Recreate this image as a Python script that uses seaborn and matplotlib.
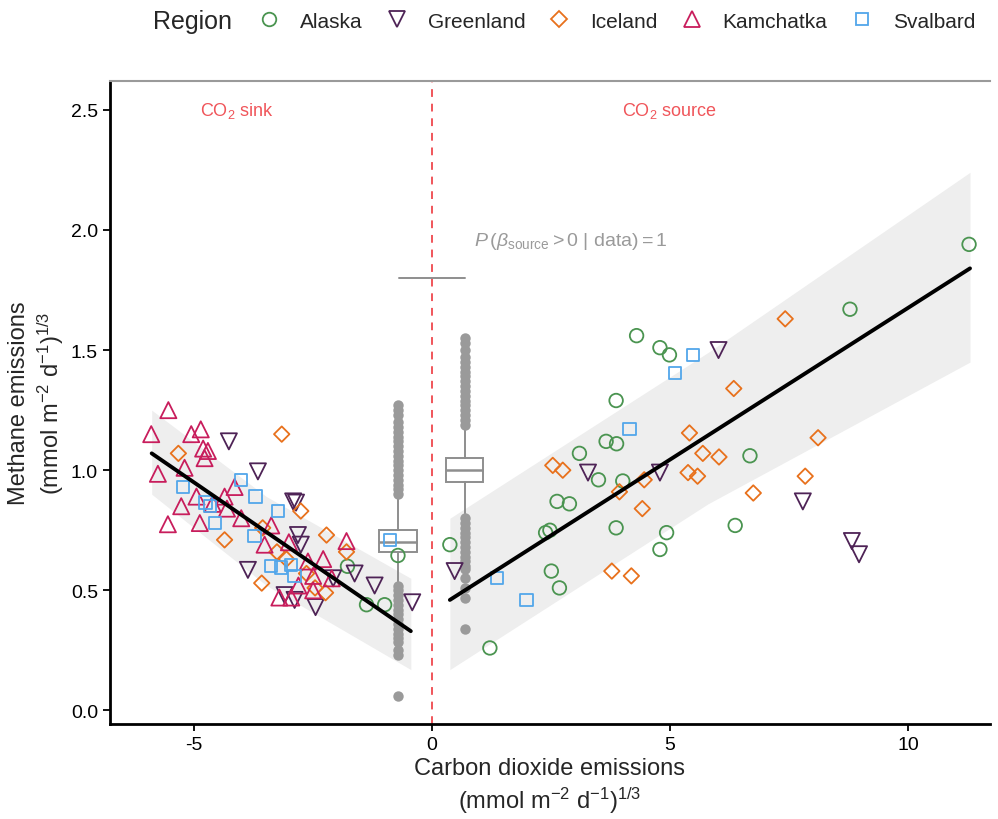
import matplotlib
matplotlib.use("Agg")
import matplotlib.pyplot as plt
from matplotlib.lines import Line2D
import numpy as np
import pandas as pd
import seaborn as sns

# Observed fluxes per region (cube-root transformed)
alaska_x = [11.28, 8.78, 4.30, 4.79, 4.99, 3.87, 3.66, 3.88, 3.10, 3.50, 4.01, 2.63, 2.89, 2.48,
            2.39, 3.87, 4.93, 4.79, 0.38, 2.51, 2.68, 1.22, 6.68, 6.37, -1.77, -1.37, -0.99, -0.71]
alaska_y = [1.94, 1.67, 1.56, 1.51, 1.48, 1.29, 1.12, 1.11, 1.07, 0.96, 0.955, 0.87, 0.86, 0.75,
            0.74, 0.76, 0.74, 0.67, 0.69, 0.58, 0.51, 0.26, 1.06, 0.77, 0.60, 0.44, 0.44, 0.645]

greenland_x = [3.28, 4.79, 0.48, 6.02, 7.79, 8.82, 8.97, -4.26, -3.65, -2.91, -2.85, -2.81, -2.75,
               -3.86, -3.09, -2.88, -2.44, -2.07, -1.62, -1.20, -0.41]
greenland_y = [0.99, 0.99, 0.58, 1.50, 0.87, 0.705, 0.65, 1.12, 0.995, 0.87, 0.865, 0.73, 0.69,
               0.585, 0.48, 0.46, 0.43, 0.55, 0.57, 0.52, 0.45]

iceland_x = [2.54, 2.75, 5.41, 5.69, 6.03, 5.38, 5.58, 4.46, 3.94, 6.34, 7.42, 8.11, 7.84, 6.75,
             4.42, 3.78, 4.19, -5.32, -3.15, -2.75, -2.21, -4.35, -3.57, -1.79, -3.25, -2.63,
             -2.23, -3.55, -3.05, -2.45]
iceland_y = [1.02, 1.00, 1.155, 1.07, 1.055, 0.99, 0.975, 0.96, 0.91, 1.34, 1.63, 1.135, 0.975,
             0.905, 0.84, 0.58, 0.56, 1.07, 1.15, 0.83, 0.73, 0.71, 0.53, 0.66, 0.66, 0.57, 0.49,
             0.76, 0.63, 0.51]

kamchatka_x = [-5.53, -5.89, -5.05, -4.85, -4.80, -4.77, -4.70, -5.75, -5.19, -5.26, -5.54, -4.87,
               -4.35, -4.14, -4.00, -4.94, -4.60, -3.51, -3.37, -3.00, -2.60, -1.79, -2.28, -2.49,
               -2.49, -2.95, -2.80, -3.20, -2.10, -4.30]
kamchatka_y = [1.25, 1.15, 1.15, 1.17, 1.09, 1.05, 1.08, 0.985, 1.01, 0.85, 0.775, 0.78, 0.89,
               0.93, 0.80, 0.89, 0.86, 0.69, 0.77, 0.70, 0.62, 0.705, 0.63, 0.56, 0.50, 0.47,
               0.52, 0.47, 0.55, 0.84]

svalbard_x = [5.10, 5.49, 4.15, 1.37, 1.99, -5.22, -4.75, -4.65, -4.00, -3.70, -3.23, -4.55, -3.72,
              -3.38, -3.16, -2.95, -2.88, -0.88]
svalbard_y = [1.405, 1.48, 1.17, 0.55, 0.46, 0.93, 0.865, 0.85, 0.96, 0.89, 0.83, 0.78, 0.725,
              0.60, 0.595, 0.605, 0.56, 0.71]

# Fitted lines and credible bands
sink_fit_x = [-5.88, -0.44]
sink_fit_y = [1.07, 0.33]
sink_band_x = [-5.88, -3.47, -0.44]
sink_band_lo = [0.90, 0.52, 0.17]
sink_band_hi = [1.25, 0.89, 0.55]

source_fit_x = [0.38, 11.30]
source_fit_y = [0.46, 1.84]
source_band_x = [0.38, 5.80, 11.30]
source_band_lo = [0.17, 0.86, 1.45]
source_band_hi = [0.80, 1.49, 2.24]

# Posterior boxplots (sink, source)
box_pos = [-0.71, 0.69]
box_med = [0.70, 1.00]
box_q1 = [0.66, 0.95]
box_q3 = [0.75, 1.05]
box_lo = [0.53, 0.81]
box_hi = [0.89, 1.18]
sink_fliers = [0.90, 0.92, 0.94, 0.96, 0.98, 1.00, 1.02, 1.04, 1.06, 1.08, 1.10, 1.12, 1.14,
               1.16, 1.18, 1.20, 1.23, 1.25, 1.27,
               0.52, 0.50, 0.48, 0.46, 0.44, 0.42, 0.40, 0.38, 0.36, 0.34, 0.32, 0.30, 0.285,
               0.25, 0.23, 0.06]
source_fliers = [1.19, 1.21, 1.23, 1.25, 1.27, 1.29, 1.31, 1.33, 1.35, 1.37, 1.39, 1.41, 1.43,
                 1.45, 1.47, 1.50, 1.53, 1.55,
                 0.80, 0.78, 0.76, 0.74, 0.72, 0.70, 0.68, 0.66, 0.64, 0.62, 0.60, 0.59,
                 0.55, 0.51, 0.47, 0.34]
bracket_x = [-0.69, 0.69]
bracket_y = [1.80, 1.80]

regions = ["Alaska", "Greenland", "Iceland", "Kamchatka", "Svalbard"]
colors = {"Alaska": "#4a9450", "Greenland": "#4e2356", "Iceland": "#e8711c",
          "Kamchatka": "#c81d5c", "Svalbard": "#52a6ea"}
markers = {"Alaska": "o", "Greenland": "v", "Iceland": "D", "Kamchatka": "^", "Svalbard": "s"}
msizes = {"Alaska": 95, "Greenland": 135, "Iceland": 62, "Kamchatka": 135, "Svalbard": 78}

df = pd.concat([
    pd.DataFrame({"co2": alaska_x, "ch4": alaska_y, "Region": "Alaska"}),
    pd.DataFrame({"co2": greenland_x, "ch4": greenland_y, "Region": "Greenland"}),
    pd.DataFrame({"co2": iceland_x, "ch4": iceland_y, "Region": "Iceland"}),
    pd.DataFrame({"co2": kamchatka_x, "ch4": kamchatka_y, "Region": "Kamchatka"}),
    pd.DataFrame({"co2": svalbard_x, "ch4": svalbard_y, "Region": "Svalbard"}),
], ignore_index=True)

sns.set_theme(style="white")
plt.rcParams["font.family"] = ["Liberation Sans", "DejaVu Sans"]
plt.rcParams["axes.unicode_minus"] = False
plt.rcParams["mathtext.fontset"] = "custom"
plt.rcParams["mathtext.rm"] = "Liberation Sans"
plt.rcParams["mathtext.it"] = "Liberation Sans:italic"
plt.rcParams["mathtext.bf"] = "Liberation Sans:bold"

fig = plt.figure(figsize=(9.98, 8.2), dpi=100)
ax = fig.add_axes([0.110, 0.116, 0.882, 0.784])

# bands
ax.fill_between(sink_band_x, sink_band_lo, sink_band_hi, color="#eeeeee", lw=0, zorder=0)
ax.fill_between(source_band_x, source_band_lo, source_band_hi, color="#eeeeee", lw=0, zorder=0)

ax.axvline(0, color="#f0555a", lw=1.4, ls=(0, (4, 3.5)), zorder=1)

# posterior boxplots
stats = []
for i in range(2):
    fl = sink_fliers if i == 0 else source_fliers
    stats.append({"med": box_med[i], "q1": box_q1[i], "q3": box_q3[i],
                  "whislo": box_lo[i], "whishi": box_hi[i], "fliers": fl})
grey = "#8e8e8e"
ax.bxp(stats, positions=box_pos, widths=0.78, showcaps=False, patch_artist=True,
       boxprops=dict(facecolor="white", edgecolor=grey, lw=1.4),
       medianprops=dict(color=grey, lw=1.8),
       whiskerprops=dict(color=grey, lw=1.4),
       flierprops=dict(marker="o", markerfacecolor="#9a9a9a", markeredgecolor="none",
                       markersize=7.5),
       zorder=2, manage_ticks=False)
ax.plot(bracket_x, bracket_y, color=grey, lw=1.4, zorder=2)

# observations
for r in regions:
    sub = df[df["Region"] == r]
    sns.scatterplot(data=sub, x="co2", y="ch4", marker=markers[r], s=msizes[r],
                    facecolor="none", edgecolor=colors[r], linewidth=1.3, ax=ax, zorder=3)

# fitted lines
sns.lineplot(x=sink_fit_x, y=sink_fit_y, color="black", lw=2.8, ax=ax, zorder=4)
sns.lineplot(x=source_fit_x, y=source_fit_y, color="black", lw=2.8, ax=ax, zorder=4)

ax.text(-4.1, 2.50, r"CO$_2$ sink", color="#f0555a", fontsize=13, ha="center", va="center")
ax.text(5.0, 2.50, r"CO$_2$ source", color="#f0555a", fontsize=13, ha="center", va="center")
ax.text(0.88, 1.955, r"$P\,(\beta_{\mathrm{source}} > 0\ |\ \mathrm{data}) = 1$",
        color="#9a9a9a", fontsize=14, ha="left", va="center")

ax.set_xlim(-6.76, 11.72)
ax.set_ylim(-0.056, 2.62)
ax.set_xticks([-5, 0, 5, 10])
ax.set_yticks([0.0, 0.5, 1.0, 1.5, 2.0, 2.5])
ax.set_yticklabels(["0.0", "0.5", "1.0", "1.5", "2.0", "2.5"])
ax.tick_params(axis="both", labelsize=14, length=5, width=1.3, color="black", labelcolor="black",
               direction="out", left=True, bottom=True)
ax.set_xlabel("Carbon dioxide emissions\n(mmol m$^{-2}$ d$^{-1}$)$^{1/3}$", fontsize=17,
              labelpad=3, linespacing=1.25)
ax.set_ylabel("Methane emissions\n(mmol m$^{-2}$ d$^{-1}$)$^{1/3}$", fontsize=17,
              linespacing=1.25)
ax.yaxis.set_label_coords(-0.05, 0.5)

for side in ["left", "bottom"]:
    ax.spines[side].set_color("black")
    ax.spines[side].set_linewidth(2)
ax.spines["top"].set_color("#9a9a9a")
ax.spines["top"].set_linewidth(1.5)
ax.spines["right"].set_visible(False)

# legend across the top
handles = [Line2D([], [], ls="", marker=markers[r], mfc="none", mec=colors[r], mew=1.3,
                  ms=np.sqrt(msizes[r])) for r in regions]
fig.text(0.153, 0.973, "Region", fontsize=18, va="center", ha="left")
fig.legend(handles, regions, loc="center left", bbox_to_anchor=(0.2445, 0.973), ncol=5,
           frameon=False, fontsize=15, handlelength=1.6, handletextpad=0.69,
           columnspacing=0.83, borderaxespad=0)

fig.savefig("out.png", dpi=100)
